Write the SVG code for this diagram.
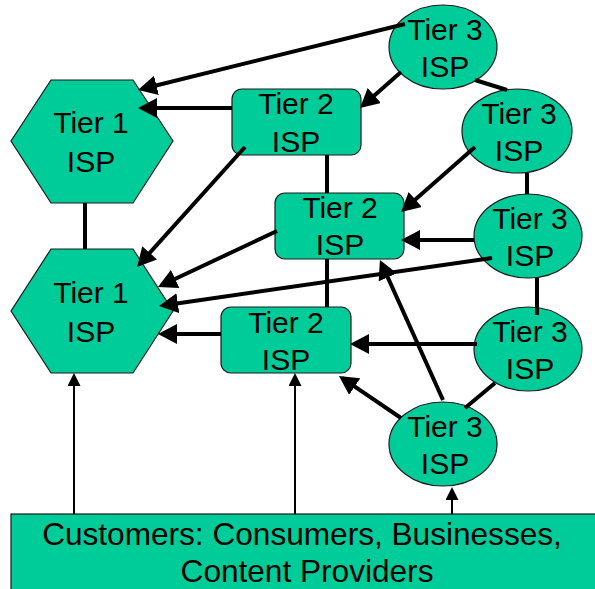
<svg xmlns="http://www.w3.org/2000/svg" width="595" height="589" viewBox="0 0 595 589">
  <style>
    .node { fill: #00CC99; stroke: #1a1a1a; stroke-width: 1.2; }
    .label { font-family: "Liberation Sans", Arial, sans-serif; font-size: 30px; fill: #000; text-anchor: middle; }
    .cust { font-family: "Liberation Sans", Arial, sans-serif; font-size: 31.6px; fill: #000; text-anchor: middle; }
    .link { stroke: #000; stroke-width: 4; fill: none; }
    .thick { stroke: #000; stroke-width: 4; fill: none; marker-end: url(#bigHead); }
    .thin { stroke: #000; stroke-width: 2; fill: none; marker-end: url(#smallHead); }
  </style>
  <defs>
    <marker id="bigHead" markerUnits="userSpaceOnUse" markerWidth="19" markerHeight="20" viewBox="0 0 19 20" refX="15" refY="10" orient="auto">
      <path d="M0,0 L19,10 L0,20 Z" fill="#000"/>
    </marker>
    <marker id="smallHead" markerUnits="userSpaceOnUse" markerWidth="13" markerHeight="13" viewBox="0 0 13 13" refX="11" refY="6.5" orient="auto">
      <path d="M0,0 L13,6.5 L0,13 Z" fill="#000"/>
    </marker>
  </defs>

  <!-- Tier 1 backbone providers -->
  <g id="tier1-top">
    <polygon class="node" points="51,80 133,80 173,141 133,203 51,203 11,141"/>
    <text class="label" x="91" y="133">Tier 1</text>
    <text class="label" x="91" y="172">ISP</text>
  </g>
  <g id="tier1-bottom">
    <polygon class="node" points="51,249 133,249 173,311 133,373 51,373 11,311"/>
    <text class="label" x="91" y="303">Tier 1</text>
    <text class="label" x="91" y="342">ISP</text>
  </g>

  <!-- Tier 2 regional providers -->
  <g id="tier2-a">
    <rect class="node" x="232" y="89" width="129" height="66" rx="10"/>
    <text class="label" x="296" y="114">Tier 2</text>
    <text class="label" x="296" y="152">ISP</text>
  </g>
  <g id="tier2-b">
    <rect class="node" x="275" y="193" width="129" height="66" rx="10"/>
    <text class="label" x="340" y="218">Tier 2</text>
    <text class="label" x="340" y="255">ISP</text>
  </g>
  <g id="tier2-c">
    <rect class="node" x="221" y="307" width="130" height="66" rx="10"/>
    <text class="label" x="286" y="333">Tier 2</text>
    <text class="label" x="286" y="370">ISP</text>
  </g>

  <!-- Tier 3 local providers -->
  <g id="tier3-a">
    <ellipse class="node" cx="443" cy="47" rx="54" ry="42"/>
    <text class="label" x="445" y="40">Tier 3</text>
    <text class="label" x="445" y="77">ISP</text>
  </g>
  <g id="tier3-b">
    <ellipse class="node" cx="517" cy="131" rx="55" ry="42"/>
    <text class="label" x="519" y="124">Tier 3</text>
    <text class="label" x="519" y="161">ISP</text>
  </g>
  <g id="tier3-c">
    <ellipse class="node" cx="528" cy="236" rx="54" ry="42"/>
    <text class="label" x="530" y="229">Tier 3</text>
    <text class="label" x="530" y="266">ISP</text>
  </g>
  <g id="tier3-d">
    <ellipse class="node" cx="528" cy="349" rx="54" ry="42"/>
    <text class="label" x="530" y="342">Tier 3</text>
    <text class="label" x="530" y="379">ISP</text>
  </g>
  <g id="tier3-e">
    <ellipse class="node" cx="443" cy="444" rx="54" ry="42"/>
    <text class="label" x="445" y="437">Tier 3</text>
    <text class="label" x="445" y="474">ISP</text>
  </g>

  <!-- End customers -->
  <g id="customers">
    <rect class="node" x="11" y="514" width="600" height="80"/>
    <text class="cust" x="302" y="545">Customers: Consumers, Businesses,</text>
    <text class="cust" x="307" y="582">Content Providers</text>
  </g>

  <!-- Connectors -->
  <g id="connectors">
    <!-- peering links -->
    <line class="link" x1="85" y1="203" x2="85" y2="249"/>
    <line class="link" x1="475" y1="80" x2="507" y2="90"/>
    <line class="link" x1="327" y1="155" x2="327" y2="193"/>
    <line class="link" x1="527" y1="173" x2="527" y2="194"/>
    <line class="link" x1="327" y1="259" x2="327" y2="307"/>
    <line class="link" x1="537" y1="278" x2="537" y2="315"/>
    <line class="link" x1="465" y1="408" x2="495" y2="383"/>
    <!-- provider links -->
    <line class="thick" x1="405" y1="24" x2="141.9" y2="89"/>
    <line class="thick" x1="232" y1="108" x2="142" y2="108"/>
    <line class="thick" x1="401" y1="72" x2="363" y2="105.4"/>
    <line class="thick" x1="245" y1="147" x2="139.7" y2="264"/>
    <line class="thick" x1="475" y1="147" x2="404" y2="209.4"/>
    <line class="thick" x1="277" y1="231" x2="161.6" y2="285.3"/>
    <line class="thick" x1="474" y1="240" x2="405" y2="240"/>
    <line class="thick" x1="492" y1="258" x2="163" y2="305.4"/>
    <line class="thick" x1="221" y1="334" x2="162" y2="334"/>
    <line class="thick" x1="477" y1="344" x2="354" y2="344"/>
    <line class="thick" x1="443" y1="400" x2="381.6" y2="263.6"/>
    <line class="thick" x1="401" y1="418" x2="342.3" y2="378.2"/>
    <!-- customer access links -->
    <line class="thin" x1="74" y1="514" x2="74" y2="375"/>
    <line class="thin" x1="295" y1="514" x2="295" y2="375"/>
    <line class="thin" x1="452" y1="514" x2="452" y2="489"/>
  </g>
</svg>
